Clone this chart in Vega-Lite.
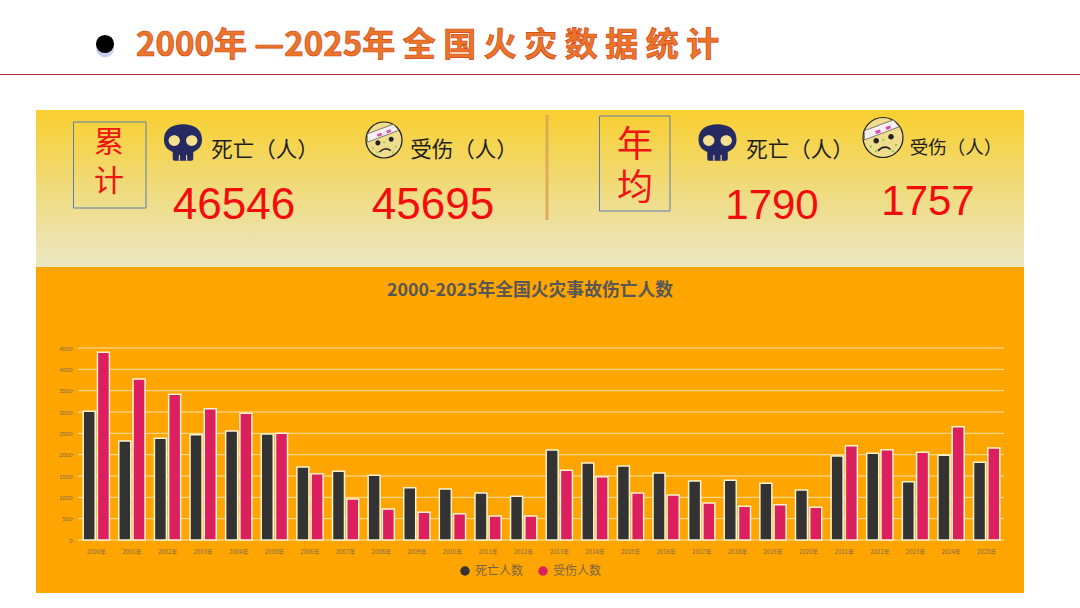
{
  "$schema": "https://vega.github.io/schema/vega-lite/v6.json",
  "width": 1080,
  "height": 608,
  "padding": 0,
  "autosize": {"type": "none"},
  "background": "#ffffff",
  "config": {"view": {"stroke": null}, "text": {"font": "Noto Sans CJK SC"}},
  "datasets": {
    "panels": [{"part": "kpi", "from": 0, "to": 1}, {"part": "chart", "from": 1, "to": 2}],
    "heading": [{"text": "2000年 —2025年 全 国 火 灾 数 据 统 计", "subtitle": "2000-2025年全国火灾事故伤亡人数"}],
    "ticks": [{"tick": 0}, {"tick": 500}, {"tick": 1000}, {"tick": 1500}, {"tick": 2000}, {"tick": 2500}, {"tick": 3000}, {"tick": 3500}, {"tick": 4000}, {"tick": 4500}],
    "boxes": [{"block": "累计", "a": 0, "b": 1, "lines": "累\n计"}, {"block": "年均", "a": 2, "b": 3, "lines": "年\n均"}],
    "kpi": [
      {"slot": 0, "label": "死亡（人）", "value": 46546},
      {"slot": 1, "label": "受伤（人）", "value": 45695},
      {"slot": 2, "label": "死亡（人）", "value": 1790},
      {"slot": 3, "label": "受伤（人）", "value": 1757}
    ],
    "people": [
      {"year": "2000年", "series": "死亡人数", "people": 3016}, {"year": "2000年", "series": "受伤人数", "people": 4398},
      {"year": "2001年", "series": "死亡人数", "people": 2320}, {"year": "2001年", "series": "受伤人数", "people": 3773},
      {"year": "2002年", "series": "死亡人数", "people": 2383}, {"year": "2002年", "series": "受伤人数", "people": 3414},
      {"year": "2003年", "series": "死亡人数", "people": 2469}, {"year": "2003年", "series": "受伤人数", "people": 3078},
      {"year": "2004年", "series": "死亡人数", "people": 2555}, {"year": "2004年", "series": "受伤人数", "people": 2969},
      {"year": "2005年", "series": "死亡人数", "people": 2484}, {"year": "2005年", "series": "受伤人数", "people": 2500},
      {"year": "2006年", "series": "死亡人数", "people": 1711}, {"year": "2006年", "series": "受伤人数", "people": 1555},
      {"year": "2007年", "series": "死亡人数", "people": 1609}, {"year": "2007年", "series": "受伤人数", "people": 961},
      {"year": "2008年", "series": "死亡人数", "people": 1516}, {"year": "2008年", "series": "受伤人数", "people": 727},
      {"year": "2009年", "series": "死亡人数", "people": 1227}, {"year": "2009年", "series": "受伤人数", "people": 648},
      {"year": "2010年", "series": "死亡人数", "people": 1195}, {"year": "2010年", "series": "受伤人数", "people": 617},
      {"year": "2011年", "series": "死亡人数", "people": 1102}, {"year": "2011年", "series": "受伤人数", "people": 563},
      {"year": "2012年", "series": "死亡人数", "people": 1023}, {"year": "2012年", "series": "受伤人数", "people": 563},
      {"year": "2013年", "series": "死亡人数", "people": 2109}, {"year": "2013年", "series": "受伤人数", "people": 1633},
      {"year": "2014年", "series": "死亡人数", "people": 1805}, {"year": "2014年", "series": "受伤人数", "people": 1484},
      {"year": "2015年", "series": "死亡人数", "people": 1734}, {"year": "2015年", "series": "受伤人数", "people": 1102},
      {"year": "2016年", "series": "死亡人数", "people": 1570}, {"year": "2016年", "series": "受伤人数", "people": 1055},
      {"year": "2017年", "series": "死亡人数", "people": 1383}, {"year": "2017年", "series": "受伤人数", "people": 867},
      {"year": "2018年", "series": "死亡人数", "people": 1398}, {"year": "2018年", "series": "受伤人数", "people": 789},
      {"year": "2019年", "series": "死亡人数", "people": 1328}, {"year": "2019年", "series": "受伤人数", "people": 828},
      {"year": "2020年", "series": "死亡人数", "people": 1172}, {"year": "2020年", "series": "受伤人数", "people": 766},
      {"year": "2021年", "series": "死亡人数", "people": 1969}, {"year": "2021年", "series": "受伤人数", "people": 2211},
      {"year": "2022年", "series": "死亡人数", "people": 2031}, {"year": "2022年", "series": "受伤人数", "people": 2117},
      {"year": "2023年", "series": "死亡人数", "people": 1367}, {"year": "2023年", "series": "受伤人数", "people": 2055},
      {"year": "2024年", "series": "死亡人数", "people": 1984}, {"year": "2024年", "series": "受伤人数", "people": 2656},
      {"year": "2025年", "series": "死亡人数", "people": 1820}, {"year": "2025年", "series": "受伤人数", "people": 2156}
    ]
  },
  "resolve": {"scale": {"x": "independent", "y": "independent", "size": "independent", "color": "independent"}, "axis": {"x": "independent", "y": "independent"}},
  "layer": [
    {
      "data": {"name": "panels"},
      "transform": [{"filter": "datum.part === 'kpi'"}],
      "mark": {"type": "rect", "fill": {"gradient": "linear", "x1": 0, "y1": 0, "x2": 0, "y2": 1, "stops": [{"offset": 0, "color": "#f9cf2f"}, {"offset": 0.55, "color": "#efdc84"}, {"offset": 1, "color": "#ebe7c4"}]}},
      "encoding": {
        "x": {"datum": 0, "type": "quantitative", "scale": {"domain": [0, 1], "range": [36, 1024]}, "axis": null},
        "x2": {"datum": 1},
        "y": {"field": "from", "type": "quantitative", "scale": {"domain": [0, 1, 2], "range": [110, 267, 593]}, "axis": null},
        "y2": {"field": "to"}
      }
    },
    {
      "data": {"name": "panels"},
      "transform": [{"filter": "datum.part === 'chart'"}],
      "mark": {"type": "rect", "fill": "#ffa500"},
      "encoding": {
        "x": {"datum": 0, "type": "quantitative", "scale": {"domain": [0, 1], "range": [36, 1024]}, "axis": null},
        "x2": {"datum": 1},
        "y": {"field": "from", "type": "quantitative", "scale": {"domain": [0, 1, 2], "range": [110, 267, 593]}, "axis": null},
        "y2": {"field": "to"}
      }
    },
    {
      "data": {"name": "ticks"},
      "mark": {"type": "rule", "stroke": "#f8e3a6", "strokeWidth": 1},
      "encoding": {
        "x": {"datum": 0, "type": "quantitative", "scale": {"domain": [0, 1], "range": [78, 1004]}, "axis": null},
        "x2": {"datum": 1},
        "y": {"field": "tick", "type": "quantitative", "scale": {"domain": [0, 4500], "range": [540, 348]}, "axis": null}
      }
    },
    {
      "data": {"name": "people"},
      "mark": {"type": "bar", "stroke": "#fdf3d0", "strokeWidth": 1.5, "width": 12},
      "encoding": {
        "x": {
          "field": "year",
          "type": "nominal",
          "sort": null,
          "title": null,
          "scale": {"range": [78.5, 1004.5], "paddingInner": 0.24, "paddingOuter": 0.12},
          "axis": {"orient": "bottom", "offset": -62, "zindex": 1, "labelAngle": 0, "domain": false, "ticks": false, "labelFontSize": 6, "labelColor": "#806a50", "labelFont": "Noto Sans CJK SC", "labelPadding": 2, "labelOverlap": false}
        },
        "xOffset": {"field": "series", "type": "nominal", "sort": ["死亡人数", "受伤人数"], "scale": {"domain": ["死亡人数", "受伤人数"], "paddingInner": 0.1}},
        "y": {
          "field": "people",
          "type": "quantitative",
          "title": null,
          "scale": {"domain": [0, 4500], "range": [540, 348]},
          "axis": {"orient": "left", "offset": -73, "zindex": 1, "values": [0, 500, 1000, 1500, 2000, 2500, 3000, 3500, 4000, 4500], "format": "d", "domain": false, "ticks": false, "grid": false, "labelFontSize": 6, "labelColor": "#806a50", "labelPadding": 1}
        },
        "color": {
          "field": "series",
          "type": "nominal",
          "sort": ["死亡人数", "受伤人数"],
          "scale": {"domain": ["死亡人数", "受伤人数"], "range": ["#333333", "#dc1f5e"]},
          "legend": {"title": null, "orient": "none", "legendX": 459, "legendY": 565, "direction": "horizontal", "symbolType": "circle", "symbolSize": 90, "symbolStrokeWidth": 0, "labelFontSize": 12, "labelColor": "#77644a", "labelFont": "Noto Sans CJK SC", "columnPadding": 13, "labelOffset": 4}
        }
      }
    },
    {
      "data": {"name": "heading"},
      "mark": {"type": "text", "font": "Noto Sans CJK SC", "fontWeight": "bold", "fontSize": 17.8, "fill": "#575757", "align": "center", "baseline": "middle"},
      "encoding": {
        "text": {"field": "subtitle"},
        "x": {"datum": 0, "type": "quantitative", "scale": {"domain": [0, 1], "range": [530, 531]}, "axis": null},
        "y": {"datum": 0, "type": "quantitative", "scale": {"domain": [0, 1], "range": [291, 292]}, "axis": null}
      }
    },
    {
      "data": {"name": "heading"},
      "mark": {"type": "text", "font": "Noto Sans CJK SC", "fontWeight": "bold", "fontSize": 33, "fill": "#e9772b", "stroke": "#d8400f", "strokeWidth": 0.7, "align": "left", "baseline": "middle"},
      "encoding": {
        "text": {"field": "text"},
        "x": {"datum": 0, "type": "quantitative", "scale": {"domain": [0, 1], "range": [136, 720]}, "axis": null},
        "y": {"datum": 0, "type": "quantitative", "scale": {"domain": [0, 1], "range": [46, 47]}, "axis": null}
      }
    },
    {
      "data": {"name": "heading"},
      "mark": {"type": "point", "shape": "circle", "filled": true, "fill": "#b9c6ea", "opacity": 0.8, "size": 340},
      "encoding": {
        "x": {"datum": 0, "type": "quantitative", "scale": {"domain": [0, 1], "range": [105, 106]}, "axis": null},
        "y": {"datum": 0, "type": "quantitative", "scale": {"domain": [0, 1], "range": [48, 49]}, "axis": null}
      }
    },
    {
      "data": {"name": "heading"},
      "mark": {"type": "point", "shape": "circle", "filled": true, "fill": "#000000", "opacity": 1, "size": 330},
      "encoding": {
        "x": {"datum": 0, "type": "quantitative", "scale": {"domain": [0, 1], "range": [105, 106]}, "axis": null},
        "y": {"datum": 0, "type": "quantitative", "scale": {"domain": [0, 1], "range": [44, 45]}, "axis": null}
      }
    },
    {
      "data": {"name": "heading"},
      "mark": {"type": "rule", "stroke": "#b5323a", "strokeWidth": 1},
      "encoding": {
        "x": {"datum": 0, "type": "quantitative", "scale": {"domain": [0, 1], "range": [0, 1080]}, "axis": null},
        "x2": {"datum": 1},
        "y": {"datum": 0, "type": "quantitative", "scale": {"domain": [0, 1], "range": [74.5, 75.5]}, "axis": null}
      }
    },
    {
      "data": {"name": "heading"},
      "mark": {"type": "rule", "stroke": "#d9a654", "strokeWidth": 3, "opacity": 0.85},
      "encoding": {
        "x": {"datum": 0, "type": "quantitative", "scale": {"domain": [0, 1], "range": [547, 548]}, "axis": null},
        "y": {"datum": 0, "type": "quantitative", "scale": {"domain": [0, 1], "range": [115, 220]}, "axis": null},
        "y2": {"datum": 1}
      }
    },
    {
      "data": {"name": "boxes"},
      "mark": {"type": "rect", "fillOpacity": 0, "stroke": "#5b7cb5", "strokeWidth": 1},
      "encoding": {
        "x": {"field": "a", "type": "quantitative", "scale": {"domain": [0, 1, 2, 3], "range": [73.5, 146, 599.5, 670]}, "axis": null},
        "x2": {"field": "b"},
        "y": {"field": "a", "type": "quantitative", "scale": {"domain": [0, 1, 2, 3], "range": [122, 208, 116, 211]}, "axis": null},
        "y2": {"field": "b"}
      }
    },
    {
      "data": {"name": "boxes"},
      "transform": [{"filter": "datum.block === '累计'"}],
      "mark": {"type": "text", "font": "Noto Sans CJK SC", "fontSize": 30, "lineBreak": "\n", "lineHeight": 39, "fill": "#f01414", "align": "center", "baseline": "middle"},
      "encoding": {
        "text": {"field": "lines"},
        "x": {"datum": 0, "type": "quantitative", "scale": {"domain": [0, 1], "range": [109, 110]}, "axis": null},
        "y": {"datum": 0, "type": "quantitative", "scale": {"domain": [0, 1], "range": [143, 144]}, "axis": null}
      }
    },
    {
      "data": {"name": "boxes"},
      "transform": [{"filter": "datum.block === '年均'"}],
      "mark": {"type": "text", "font": "Noto Sans CJK SC", "fontSize": 36, "lineBreak": "\n", "lineHeight": 43, "fill": "#f01414", "align": "center", "baseline": "middle"},
      "encoding": {
        "text": {"field": "lines"},
        "x": {"datum": 0, "type": "quantitative", "scale": {"domain": [0, 1], "range": [635, 636]}, "axis": null},
        "y": {"datum": 0, "type": "quantitative", "scale": {"domain": [0, 1], "range": [146, 147]}, "axis": null}
      }
    },
    {
      "data": {"name": "kpi"},
      "mark": {"type": "text", "font": "Noto Sans CJK SC", "fill": "#1e1e1e", "align": "center", "baseline": "middle"},
      "encoding": {
        "text": {"field": "label"},
        "x": {"field": "slot", "type": "quantitative", "scale": {"domain": [0, 1, 2, 3], "range": [265, 464, 800, 956]}, "axis": null},
        "y": {"field": "slot", "type": "quantitative", "scale": {"domain": [0, 1, 2, 3], "range": [151, 151, 151, 148]}, "axis": null},
        "size": {"field": "slot", "type": "quantitative", "scale": {"domain": [0, 1, 2, 3], "range": [21.5, 21.5, 21.5, 18.5]}, "legend": null}
      }
    },
    {
      "data": {"name": "kpi"},
      "mark": {"type": "text", "font": "Liberation Sans", "fill": "#f40c0c", "align": "center", "baseline": "middle"},
      "encoding": {
        "text": {"field": "value"},
        "x": {"field": "slot", "type": "quantitative", "scale": {"domain": [0, 1, 2, 3], "range": [234, 433, 772, 928]}, "axis": null},
        "y": {"field": "slot", "type": "quantitative", "scale": {"domain": [0, 1, 2, 3], "range": [206, 206, 206, 202]}, "axis": null},
        "size": {"field": "slot", "type": "quantitative", "scale": {"domain": [0, 1, 2, 3], "range": [44, 44, 42, 42]}, "legend": null}
      }
    },
    {
      "data": {"name": "kpi"},
      "transform": [{"filter": "datum.slot === 0 || datum.slot === 2"}],
      "encoding": {
        "x": {"field": "slot", "type": "quantitative", "scale": {"domain": [0, 2], "range": [183, 717.5]}, "axis": null},
        "y": {"datum": 0, "type": "quantitative", "scale": {"domain": [0, 1], "range": [142.5, 143]}, "axis": null}
      },
      "layer": [
        {"mark": {"type": "point", "filled": true, "opacity": 1, "size": 5776, "fill": "#252a63", "shape": "M-.5,-.08C-.5,-.36 -.27,-.48 0,-.48C.27,-.48 .5,-.36 .5,-.08C.5,.12 .38,.2 .27,.25V.43Q.27,.48 .22,.48H-.22Q-.27,.48 -.27,.43V.25C-.38,.2 -.5,.12 -.5,-.08Z"}},
        {"mark": {"type": "point", "filled": true, "opacity": 1, "size": 5776, "fill": "#f4e08e", "shape": "M-.38,-.05A.15,.14 0 1 1 -.08,-.05A.15,.14 0 1 1 -.38,-.05ZM.08,-.05A.15,.14 0 1 1 .38,-.05A.15,.14 0 1 1 .08,-.05ZM-.11,.33H-.08V.48H-.11ZM.08,.33H.11V.48H.08Z"}}
      ]
    },
    {
      "data": {"name": "kpi"},
      "transform": [{"filter": "datum.slot === 1 || datum.slot === 3"}],
      "encoding": {
        "x": {"field": "slot", "type": "quantitative", "scale": {"domain": [1, 3], "range": [384, 883]}, "axis": null},
        "y": {"field": "slot", "type": "quantitative", "scale": {"domain": [1, 3], "range": [140, 137.5]}, "axis": null},
        "size": {"field": "slot", "type": "quantitative", "scale": {"domain": [1, 3], "range": [5184, 6400]}, "legend": null}
      },
      "layer": [
        {"mark": {"type": "point", "filled": true, "opacity": 1, "fill": "#efdc8c", "stroke": "#1a1a1a", "strokeWidth": 1.2, "shape": "M-.5,0A.5,.5 0 1 1 .5,0A.5,.5 0 1 1 -.5,0Z"}},
        {"mark": {"type": "point", "filled": true, "opacity": 1, "fill": "#f6f0f0", "stroke": "#333333", "strokeWidth": 0.6, "shape": "M-.47,-.17L.26,-.44L.41,-.27L-.46,.06Z"}},
        {"mark": {"type": "point", "filled": true, "opacity": 1, "fill": "#d94fb0", "shape": "M-.2,-.16L-.08,-.2L-.05,-.13L-.17,-.09ZM.06,-.26L.18,-.3L.2,-.23L.09,-.19Z"}},
        {"mark": {"type": "point", "filled": true, "opacity": 1, "fill": "#222222", "shape": "M-.24,.08A.07,.07 0 1 1 -.1,.08A.07,.07 0 1 1 -.24,.08ZM.13,-.02A.07,.07 0 1 1 .27,-.02A.07,.07 0 1 1 .13,-.02ZM-.14,.32Q.03,.14 .2,.28L.18,.31Q.03,.2 -.11,.35Z"}},
        {"mark": {"type": "point", "filled": true, "opacity": 1, "fill": "#7fce5a", "shape": "M-.33,.2h.05v.05h-.05ZM-.2,.32h.05v.05h-.05ZM.3,.16h.05v.05h-.05ZM.22,.32h.05v.05h-.05ZM-.02,.04h.05v.05h-.05Z"}}
      ]
    }
  ]
}
